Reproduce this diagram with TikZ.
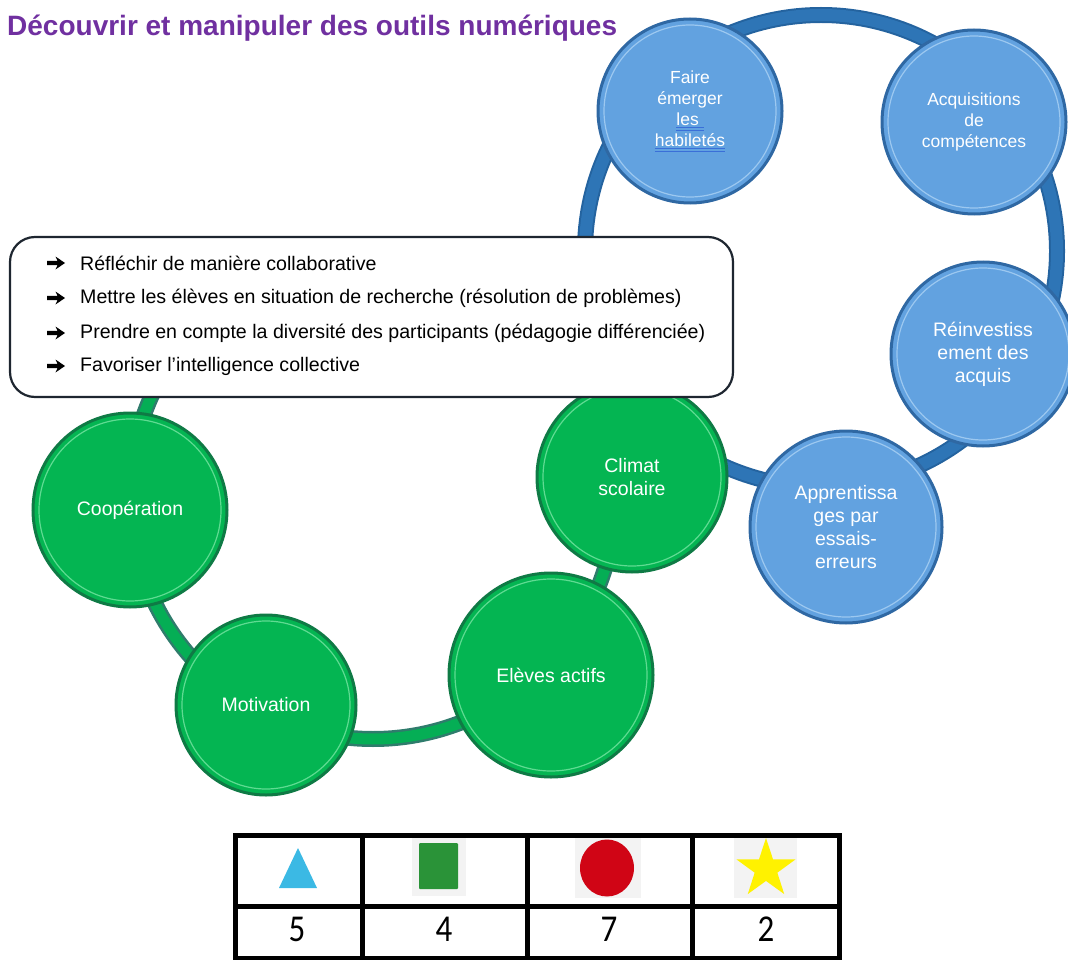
\documentclass[tikz,border=0pt]{standalone}
\usepackage{fontspec}
\setmainfont{Liberation Sans}
\newfontfamily\carl{Carlito}
\usetikzlibrary{shapes.geometric}
\definecolor{titlepurple}{HTML}{7030A0}
\definecolor{cblue}{HTML}{62A2E0}
\definecolor{cbluedge}{HTML}{2F68A3}
\definecolor{cbluerim}{HTML}{9CC8F0}
\definecolor{ringblue}{HTML}{2E75B6}
\definecolor{ringbluedk}{HTML}{24639F}
\definecolor{cgreen}{HTML}{04B552}
\definecolor{cgreenedge}{HTML}{0F7A45}
\definecolor{cgreenrim}{HTML}{5FDB92}
\definecolor{ringgreen}{HTML}{05AE55}
\definecolor{ringgreendk}{HTML}{2F7C6C}
\definecolor{ulblue}{HTML}{3A6FD8}
\definecolor{triblue}{HTML}{3BB9E4}
\definecolor{sqgreen}{HTML}{2A9338}
\definecolor{dotred}{HTML}{D00515}
\definecolor{staryel}{HTML}{FFF200}
\definecolor{imggray}{HTML}{F3F3F3}
\definecolor{boxline}{HTML}{1E2630}
\newcommand\blueul[1]{\setbox0\hbox{#1}\rlap{\color{ulblue}\rule[-3pt]{\wd0}{1pt}\llap{\rule[-5.5pt]{\wd0}{1pt}}}\box0}
\tikzset{
  bluecirc/.style={circle, fill=cblue, draw=cbluedge, line width=3pt, text=white, align=center, inner sep=0pt, font=\fontsize{17.5}{21}\selectfont},
  greencirc/.style={circle, fill=cgreen, draw=cgreenedge, line width=3pt, text=white, align=center, inner sep=0pt, font=\fontsize{19.5}{23}\selectfont},
  bluerim/.style={draw=cbluerim, line width=1.2pt},
  greenrim/.style={draw=cgreenrim, line width=1.2pt},
  itemtext/.style={anchor=west, inner sep=0pt, font=\fontsize{19.6}{22}\selectfont},
  itemarrow/.pic={\fill[black] (-9,-2.2) -- (1.5,-2.2) -- (-0.5,-6.5) -- (9,0) -- (-0.5,6.5) -- (1.5,2.2) -- (-9,2.2) -- cycle;},
  numst/.style={inner sep=0pt, font=\carl\fontsize{33}{33}\selectfont},
  tableline/.style={line width=5pt, black}
}
\begin{document}
\begin{tikzpicture}[x=1pt,y=1pt]
\useasboundingbox (0,0) rectangle (1068,-960);
% title
\node[anchor=west, inner sep=0pt, text=titlepurple, font=\bfseries\fontsize{28}{30}\selectfont] (title) at (7,-28) {Découvrir et manipuler des outils numériques};
% rings
\coordinate (bc) at (821,-251);
\coordinate (gc) at (373,-496);
\draw[ringbluedk, line width=16pt] (bc) circle (236pt);
\draw[ringblue, line width=12pt] (bc) circle (236pt);
\draw[ringgreendk, line width=16pt] (gc) ++(150:243pt) arc[start angle=150, end angle=352, radius=243pt];
\draw[ringgreen, line width=11pt] (gc) ++(150:243pt) arc[start angle=150, end angle=352, radius=243pt];
% blue circles
\node[bluecirc, minimum size=184pt] (faire) at (690,-111) {Faire\\émerger\\\blueul{les\ }\\\blueul{habiletés}};
\draw[bluerim] (faire.center) circle (86pt);
\node[bluecirc, minimum size=184pt] (acqu) at (974,-122) {Acquisitions\\de\\compétences};
\draw[bluerim] (acqu.center) circle (86pt);
\node[bluecirc, minimum size=184pt, font=\fontsize{19.5}{23}\selectfont] (rein) at (983,-354) {Réinvestiss\\ement des\\acquis};
\draw[bluerim] (rein.center) circle (86pt);
\node[bluecirc, minimum size=192pt, font=\fontsize{19.5}{23}\selectfont] (appr) at (846,-527) {Apprentissa\\ges par\\essais-\\erreurs};
\draw[bluerim] (appr.center) circle (90pt);
% green circles
\node[greencirc, minimum size=194pt] (coop) at (130,-510) {Coopération};
\draw[greenrim] (coop.center) circle (91pt);
\node[greencirc, minimum size=180pt] (moti) at (266,-705) {Motivation};
\draw[greenrim] (moti.center) circle (84pt);
\node[greencirc, minimum size=204pt] (elev) at (551,-675) {Elèves actifs};
\draw[greenrim] (elev.center) circle (96pt);
\node[greencirc, minimum size=190pt] (clim) at (632,-477) {Climat\\scolaire};
\draw[greenrim] (clim.center) circle (89pt);
% text box
\node[draw=boxline, fill=white, line width=2.2pt, rounded corners=25pt, minimum width=723pt, minimum height=160pt, inner sep=0pt] (box) at (371.5,-317) {};
\pic at (56,-263) {itemarrow};
\pic at (56,-298) {itemarrow};
\pic at (56,-333) {itemarrow};
\pic at (56,-366) {itemarrow};
\node[itemtext] (t1) at (80,-263) {Réfléchir de manière collaborative};
\node[itemtext] (t2) at (80,-298) {Mettre les élèves en situation de recherche (résolution de problèmes)};
\node[itemtext] (t3) at (80,-333) {Prendre en compte la diversité des participants (pédagogie différenciée)};
\node[itemtext] (t4) at (80,-366) {Favoriser l’intelligence collective};
% table
\fill[imggray] (412,-838) rectangle (466,-896);
\fill[imggray] (575,-836) rectangle (641,-898);
\fill[imggray] (734,-836) rectangle (797,-898);
\fill[triblue] (279,-888) -- (317,-888) -- (298,-848) -- cycle;
\fill[sqgreen, rounded corners=1pt] (419,-843) rectangle (458,-889);
\fill[dotred] (607,-868) ellipse (27pt and 28.5pt);
\node[star, star points=5, star point ratio=2.6, fill=staryel, minimum size=62pt, inner sep=0pt] (star) at (766,-869) {};
\draw[tableline] (235,-835) rectangle (839,-958);
\draw[tableline] (235,-906) -- (839,-906);
\draw[tableline] (362,-835) -- (362,-958);
\draw[tableline] (527,-835) -- (527,-958);
\draw[tableline] (692,-835) -- (692,-958);
\node[numst] (n1) at (297,-929) {\scalebox{1}[1.15]{5}};
\node[numst] (n2) at (444,-929) {\scalebox{1}[1.15]{4}};
\node[numst] (n3) at (609,-929) {\scalebox{1}[1.15]{7}};
\node[numst] (n4) at (766,-929) {\scalebox{1}[1.15]{2}};
\end{tikzpicture}
\end{document}
